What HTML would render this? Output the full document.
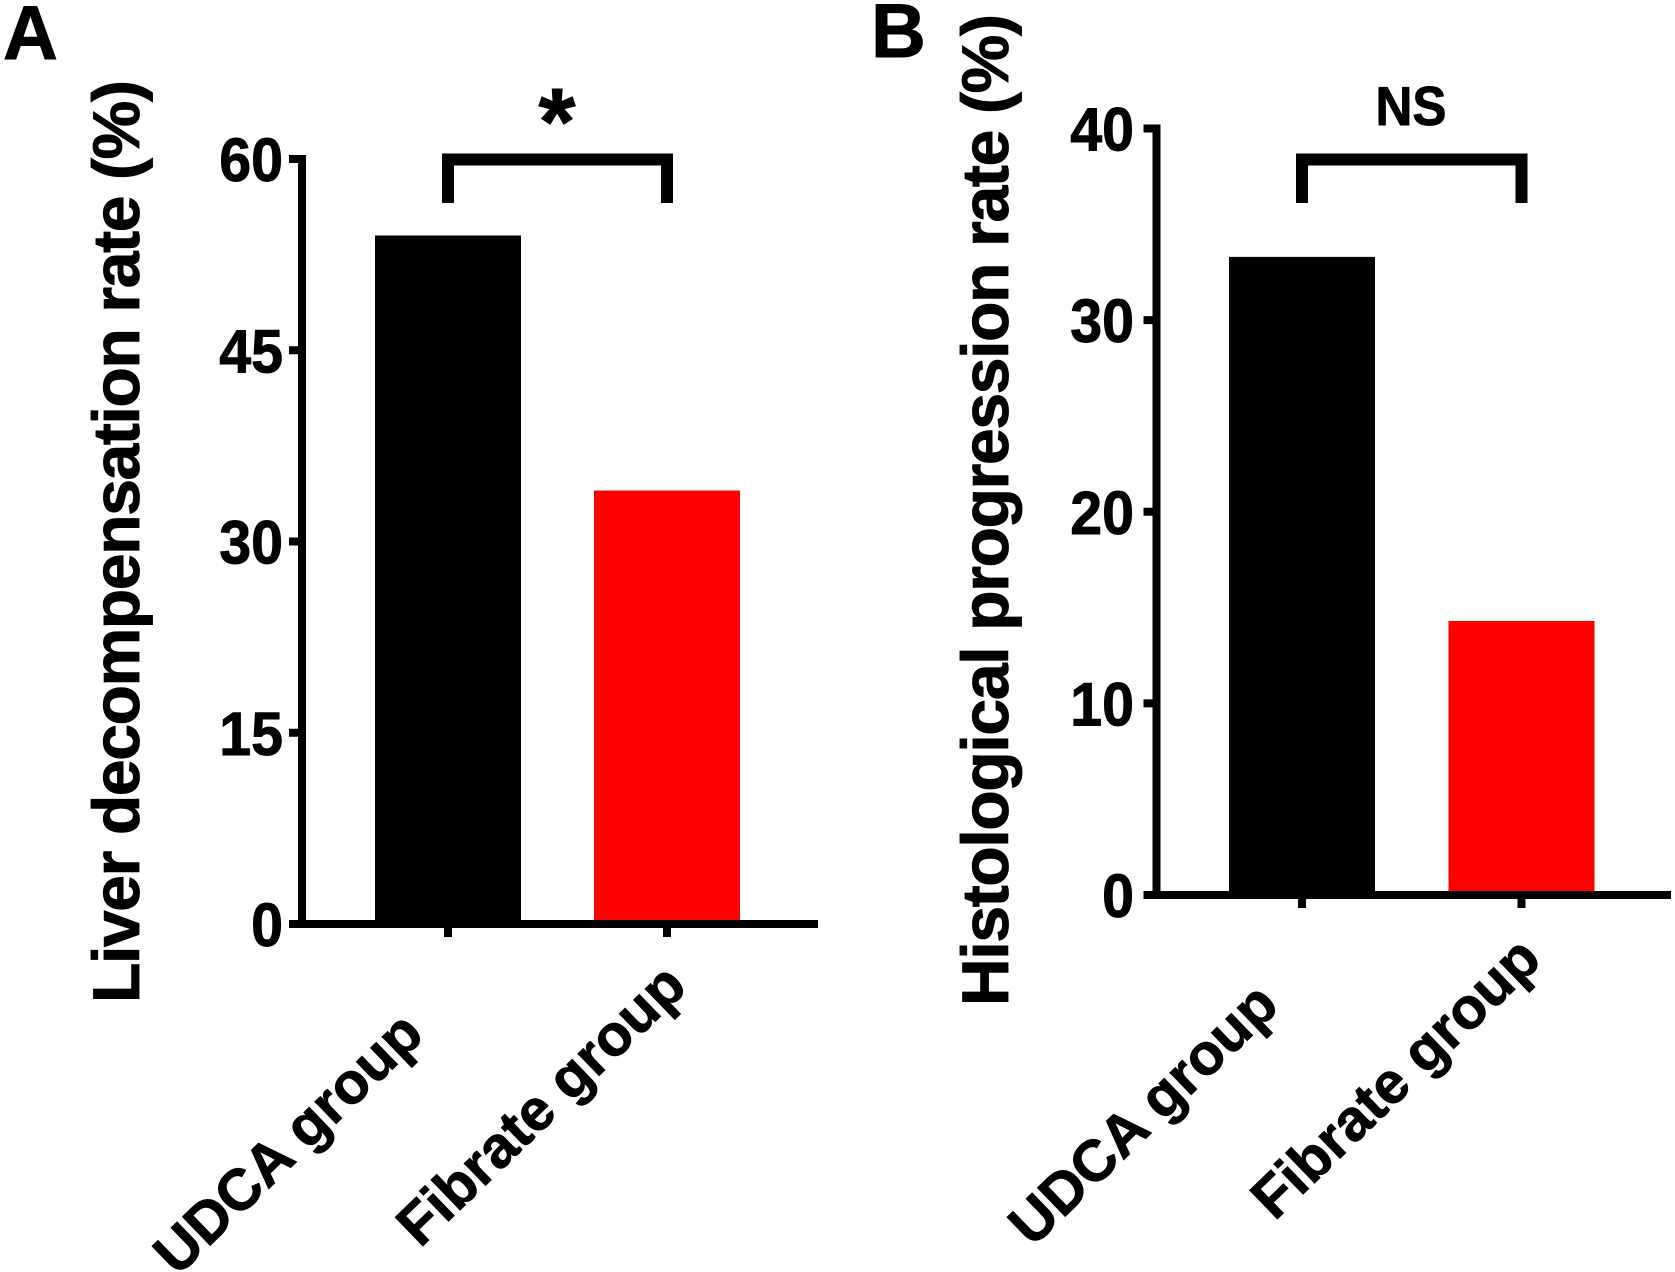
<!DOCTYPE html>
<html lang="en">
<head>
<meta charset="utf-8">
<title>Liver decompensation and histological progression rates</title>
<style>
html,body{margin:0;padding:0;background:#fff;width:1675px;height:1272px;overflow:hidden}
svg{display:block}
text{font-family:"Liberation Sans",Arial,sans-serif;font-weight:bold;fill:#000;stroke:#000;stroke-width:0.9px}
</style>
</head>
<body>
<svg id="figure" xmlns="http://www.w3.org/2000/svg" width="1675" height="1272" viewBox="0 0 1675 1272"></svg>
<script>
const panelACategories = ['UDCA group', 'Fibrate group'];
const panelAValues = [54, 34];
const panelATicks = [0, 15, 30, 45, 60];
const panelATickLabels = ['0', '15', '30', '45', '60'];
const panelBCategories = ['UDCA group', 'Fibrate group'];
const panelBValues = [33.3, 14.3];
const panelBTicks = [0, 10, 20, 30, 40];
const panelBTickLabels = ['0', '10', '20', '30', '40'];
const barColors = ['#000000', '#ff0000'];

const svg = document.getElementById('figure');
const NS = 'http://www.w3.org/2000/svg';

function make(parent, tag, attrs, content) {
  const el = document.createElementNS(NS, tag);
  for (const k in attrs) el.setAttribute(k, attrs[k]);
  if (content !== undefined) el.textContent = content;
  parent.appendChild(el);
  return el;
}

function drawPanel(o) {
  const g = make(svg, 'g', {});
  
  

  const maxTick = o.ticks[o.ticks.length - 1];
  const yScale = v => o.baseY - (v / maxTick) * (o.baseY - o.topY);
  const xScale = i => o.firstX + i * o.stepX;

  // bars
  o.values.forEach((v, i) => {
    const bar = make(g, 'rect', {
      x: xScale(i) - o.barW / 2,
      y: yScale(v),
      width: o.barW,
      height: yScale(0) - yScale(v),
      fill: barColors[i]
    });
    
    
  });

  // y axis line
  const yAxis = make(g, 'rect', {
    x: o.axisX - 4, y: yScale(maxTick) - 4, width: 8, height: yScale(0) - yScale(maxTick) + 8, fill: '#000'
  });
  
  

  // x axis line
  const xAxis = make(g, 'rect', {
    x: o.axisX - 13, y: yScale(0) - 4, width: o.axisEnd - o.axisX + 13, height: 8, fill: '#000'
  });
  
  

  // y ticks and labels
  o.ticks.forEach((t, i) => {
    const tick = make(g, 'rect', {
      x: o.axisX - 13, y: yScale(t) - 4, width: 13, height: 8, fill: '#000'
    });
    
    
    const label = make(g, 'text', {
      transform: 'translate(' + o.labelX + ',' + (yScale(t) + 22) + ') scale(0.94,1)',
      'text-anchor': 'end',
      'font-size': 61
    }, o.tickLabels[i]);
    
    
  });

  // x ticks and rotated category labels
  o.categories.forEach((c, i) => {
    const tick = make(g, 'rect', {
      x: xScale(i) - 4, y: yScale(0) + 4, width: 8, height: 9, fill: '#000'
    });
    
    
    const lx = xScale(i) + o.catDX + i * o.catShiftX;
    const ly = yScale(0) + o.catDY + i * o.catShiftY;
    const label = make(g, 'text', {
      transform: 'translate(' + lx + ',' + ly + ') rotate(-44)',
      'text-anchor': 'end',
      'font-size': 58
    }, c);
    
    
  });

  // y axis title
  const title = make(g, 'text', {
    transform: 'translate(' + o.titleX + ',' + o.titleY + ') rotate(-90)',
    'font-size': 66,
    textLength: o.titleLen,
    lengthAdjust: 'spacing'
  }, o.title);
  
  

  // panel letter
  const letter = make(g, 'text', {
    x: o.letterX, y: o.letterY, 'font-size': 76
  }, o.letter);
  
  

  // significance bracket
  const bracket = make(g, 'path', {
    d: 'M' + xScale(0) + ' 203V159.5H' + xScale(1) + 'V203',
    fill: 'none', stroke: '#000', 'stroke-width': 12
  });
  
  

  const mark = make(g, 'text', {
    transform: 'translate(' + o.markX + ',' + o.markY + ') scale(' + o.markScaleX + ',1)',
    'text-anchor': 'middle',
    'font-size': o.markSize
  }, o.mark);
  
  
}

drawPanel({
  name: 'panel-a', letter: 'A', letterX: 3, letterY: 59,
  categories: panelACategories, values: panelAValues,
  ticks: panelATicks, tickLabels: panelATickLabels,
  baseY: 924, topY: 159, axisX: 302, axisEnd: 818, labelX: 283,
  firstX: 448, stepX: 219, barW: 146,
  catDX: -22, catDY: 113, catShiftX: 44, catShiftY: -48,
  title: 'Liver decompensation rate (%)', titleX: 139, titleY: 1003, titleLen: 923,
  mark: '*', markX: 557, markY: 154, markSize: 95, markScaleX: 1
});

drawPanel({
  name: 'panel-b', letter: 'B', letterX: 871, letterY: 57,
  categories: panelBCategories, values: panelBValues,
  ticks: panelBTicks, tickLabels: panelBTickLabels,
  baseY: 895, topY: 128.5, axisX: 1156.5, axisEnd: 1671, labelX: 1134,
  firstX: 1302, stepX: 219.5, barW: 146,
  catDX: -21, catDY: 113, catShiftX: 43, catShiftY: -46,
  title: 'Histological progression rate (%)', titleX: 1008, titleY: 1006, titleLen: 992,
  mark: 'NS', markX: 1411, markY: 125, markSize: 55, markScaleX: 0.93
});
</script>
</body>
</html>
